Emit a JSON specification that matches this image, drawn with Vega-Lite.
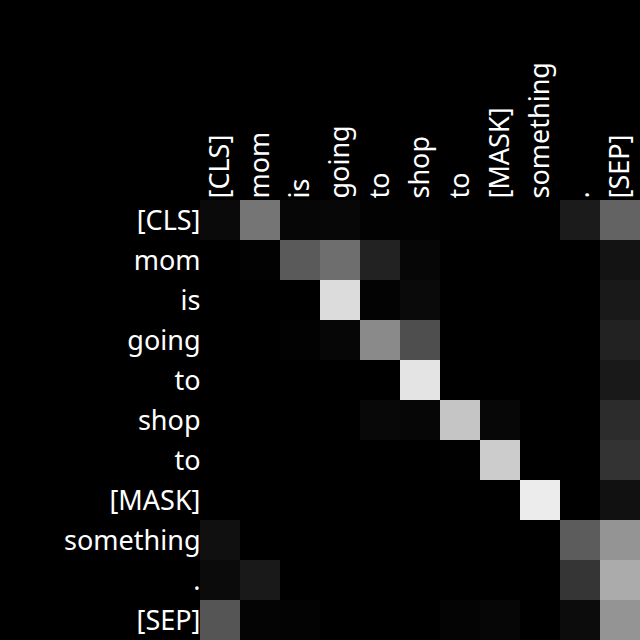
{
  "$schema": "https://vega.github.io/schema/vega-lite/v6.json",
  "width": 440,
  "height": 440,
  "autosize": "none",
  "padding": {"left": 200, "top": 200, "right": 0, "bottom": 0},
  "background": "#000000",
  "config": {"view": {"stroke": null}},
  "data": {
    "values": [
      {"row": 0, "col": 0, "w": 0.039}, {"row": 0, "col": 1, "w": 0.459}, {"row": 0, "col": 2, "w": 0.024}, {"row": 0, "col": 3, "w": 0.027}, {"row": 0, "col": 4, "w": 0.008}, {"row": 0, "col": 5, "w": 0.008}, {"row": 0, "col": 6, "w": 0.004}, {"row": 0, "col": 7, "w": 0.004}, {"row": 0, "col": 8, "w": 0.004}, {"row": 0, "col": 9, "w": 0.106}, {"row": 0, "col": 10, "w": 0.388},
      {"row": 1, "col": 0, "w": 0.0}, {"row": 1, "col": 1, "w": 0.008}, {"row": 1, "col": 2, "w": 0.353}, {"row": 1, "col": 3, "w": 0.431}, {"row": 1, "col": 4, "w": 0.133}, {"row": 1, "col": 5, "w": 0.024}, {"row": 1, "col": 6, "w": 0.0}, {"row": 1, "col": 7, "w": 0.0}, {"row": 1, "col": 8, "w": 0.0}, {"row": 1, "col": 9, "w": 0.0}, {"row": 1, "col": 10, "w": 0.075},
      {"row": 2, "col": 0, "w": 0.0}, {"row": 2, "col": 1, "w": 0.0}, {"row": 2, "col": 2, "w": 0.0}, {"row": 2, "col": 3, "w": 0.863}, {"row": 2, "col": 4, "w": 0.012}, {"row": 2, "col": 5, "w": 0.039}, {"row": 2, "col": 6, "w": 0.0}, {"row": 2, "col": 7, "w": 0.0}, {"row": 2, "col": 8, "w": 0.0}, {"row": 2, "col": 9, "w": 0.0}, {"row": 2, "col": 10, "w": 0.098},
      {"row": 3, "col": 0, "w": 0.0}, {"row": 3, "col": 1, "w": 0.0}, {"row": 3, "col": 2, "w": 0.008}, {"row": 3, "col": 3, "w": 0.024}, {"row": 3, "col": 4, "w": 0.541}, {"row": 3, "col": 5, "w": 0.306}, {"row": 3, "col": 6, "w": 0.0}, {"row": 3, "col": 7, "w": 0.0}, {"row": 3, "col": 8, "w": 0.0}, {"row": 3, "col": 9, "w": 0.0}, {"row": 3, "col": 10, "w": 0.133},
      {"row": 4, "col": 0, "w": 0.0}, {"row": 4, "col": 1, "w": 0.0}, {"row": 4, "col": 2, "w": 0.0}, {"row": 4, "col": 3, "w": 0.0}, {"row": 4, "col": 4, "w": 0.0}, {"row": 4, "col": 5, "w": 0.894}, {"row": 4, "col": 6, "w": 0.0}, {"row": 4, "col": 7, "w": 0.0}, {"row": 4, "col": 8, "w": 0.0}, {"row": 4, "col": 9, "w": 0.0}, {"row": 4, "col": 10, "w": 0.098},
      {"row": 5, "col": 0, "w": 0.0}, {"row": 5, "col": 1, "w": 0.0}, {"row": 5, "col": 2, "w": 0.0}, {"row": 5, "col": 3, "w": 0.0}, {"row": 5, "col": 4, "w": 0.031}, {"row": 5, "col": 5, "w": 0.024}, {"row": 5, "col": 6, "w": 0.773}, {"row": 5, "col": 7, "w": 0.027}, {"row": 5, "col": 8, "w": 0.0}, {"row": 5, "col": 9, "w": 0.0}, {"row": 5, "col": 10, "w": 0.173},
      {"row": 6, "col": 0, "w": 0.0}, {"row": 6, "col": 1, "w": 0.0}, {"row": 6, "col": 2, "w": 0.0}, {"row": 6, "col": 3, "w": 0.0}, {"row": 6, "col": 4, "w": 0.0}, {"row": 6, "col": 5, "w": 0.0}, {"row": 6, "col": 6, "w": 0.004}, {"row": 6, "col": 7, "w": 0.8}, {"row": 6, "col": 8, "w": 0.0}, {"row": 6, "col": 9, "w": 0.0}, {"row": 6, "col": 10, "w": 0.2},
      {"row": 7, "col": 0, "w": 0.0}, {"row": 7, "col": 1, "w": 0.0}, {"row": 7, "col": 2, "w": 0.0}, {"row": 7, "col": 3, "w": 0.0}, {"row": 7, "col": 4, "w": 0.0}, {"row": 7, "col": 5, "w": 0.0}, {"row": 7, "col": 6, "w": 0.0}, {"row": 7, "col": 7, "w": 0.0}, {"row": 7, "col": 8, "w": 0.925}, {"row": 7, "col": 9, "w": 0.0}, {"row": 7, "col": 10, "w": 0.067},
      {"row": 8, "col": 0, "w": 0.063}, {"row": 8, "col": 1, "w": 0.0}, {"row": 8, "col": 2, "w": 0.0}, {"row": 8, "col": 3, "w": 0.0}, {"row": 8, "col": 4, "w": 0.0}, {"row": 8, "col": 5, "w": 0.0}, {"row": 8, "col": 6, "w": 0.0}, {"row": 8, "col": 7, "w": 0.0}, {"row": 8, "col": 8, "w": 0.0}, {"row": 8, "col": 9, "w": 0.361}, {"row": 8, "col": 10, "w": 0.58},
      {"row": 9, "col": 0, "w": 0.043}, {"row": 9, "col": 1, "w": 0.098}, {"row": 9, "col": 2, "w": 0.0}, {"row": 9, "col": 3, "w": 0.0}, {"row": 9, "col": 4, "w": 0.0}, {"row": 9, "col": 5, "w": 0.0}, {"row": 9, "col": 6, "w": 0.0}, {"row": 9, "col": 7, "w": 0.0}, {"row": 9, "col": 8, "w": 0.0}, {"row": 9, "col": 9, "w": 0.208}, {"row": 9, "col": 10, "w": 0.671},
      {"row": 10, "col": 0, "w": 0.333}, {"row": 10, "col": 1, "w": 0.016}, {"row": 10, "col": 2, "w": 0.012}, {"row": 10, "col": 3, "w": 0.0}, {"row": 10, "col": 4, "w": 0.0}, {"row": 10, "col": 5, "w": 0.0}, {"row": 10, "col": 6, "w": 0.016}, {"row": 10, "col": 7, "w": 0.024}, {"row": 10, "col": 8, "w": 0.0}, {"row": 10, "col": 9, "w": 0.047}, {"row": 10, "col": 10, "w": 0.58}
    ]
  },
  "mark": {"type": "rect", "strokeWidth": 0},
  "encoding": {
    "x": {
      "field": "col", "type": "ordinal", "title": null,
      "scale": {"paddingInner": 0, "paddingOuter": 0},
      "axis": {
        "orient": "top", "labelAngle": -90, "ticks": false, "domain": false,
        "labelColor": "#ffffff", "labelFont": "Noto Sans", "labelFontSize": 27,
        "labelPadding": 2, "labelOffset": 1,
        "labelExpr": "['[CLS]','mom','is','going','to','shop','to','[MASK]','something','.','[SEP]'][datum.value]"
      }
    },
    "y": {
      "field": "row", "type": "ordinal", "title": null,
      "scale": {"paddingInner": 0, "paddingOuter": 0},
      "axis": {
        "ticks": false, "domain": false,
        "labelColor": "#ffffff", "labelFont": "Noto Sans", "labelFontSize": 27,
        "labelPadding": 0, "labelOffset": 2,
        "labelExpr": "['[CLS]','mom','is','going','to','shop','to','[MASK]','something','.','[SEP]'][datum.value]"
      }
    },
    "color": {
      "field": "w", "type": "quantitative", "legend": null,
      "scale": {"domain": [0, 1], "range": ["#000000", "#ffffff"], "interpolate": "rgb"}
    }
  }
}
